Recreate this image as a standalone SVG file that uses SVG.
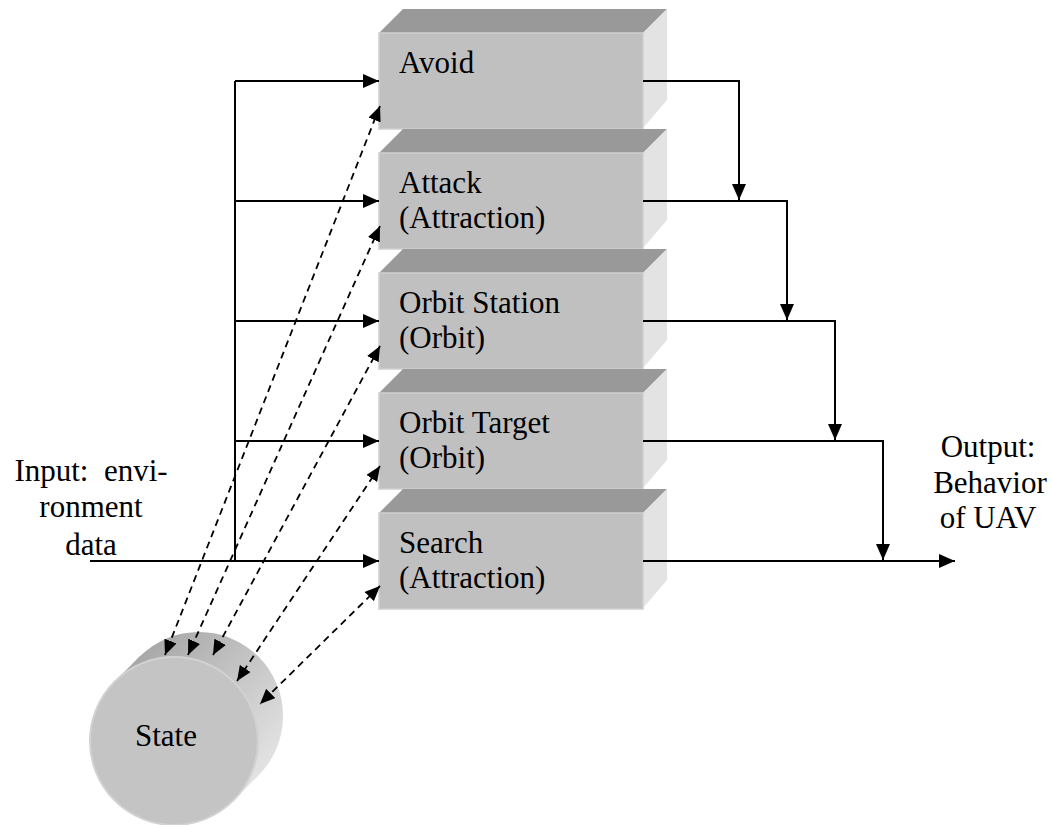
<svg xmlns="http://www.w3.org/2000/svg" width="1054" height="825" viewBox="0 0 1054 825">
<style>
.t{font-family:"Liberation Serif","Times New Roman",serif;font-size:31px;fill:#000}
.front{fill:#c0c0c0;stroke:#cfcfcf;stroke-width:1.5}
.top{fill:#999999}
.side{fill:#e3e3e3}
.ln{fill:none;stroke:#000;stroke-width:2}
.ds{fill:none;stroke:#000;stroke-width:1.8;stroke-dasharray:7 5}
</style>
<defs>
<marker id="ah" viewBox="0 0 16 14" refX="16" refY="7" markerWidth="16" markerHeight="14" markerUnits="userSpaceOnUse" orient="auto-start-reverse">
<path d="M0,0 L16,7 L0,14 z" fill="#000"/>
</marker>
<marker id="dh" viewBox="0 0 15 13" refX="15" refY="6.5" markerWidth="15" markerHeight="13" markerUnits="userSpaceOnUse" orient="auto-start-reverse">
<path d="M0,0 L15,6.5 L0,13 z" fill="#000"/>
</marker>
<linearGradient id="cyl" gradientUnits="userSpaceOnUse" x1="140" y1="630" x2="285" y2="770">
<stop offset="0" stop-color="#a2a2a2"/>
<stop offset="1" stop-color="#e8e8e8"/>
</linearGradient>
</defs>

<g id="avoid">
<polygon class="top" points="379,33 643,33 667,9 403,9"/>
<polygon class="side" points="643,33 667,9 667,100 643,128"/>
<rect class="front" x="379" y="33" width="264" height="96"/>
<text class="t" x="399" y="73">Avoid</text>
</g>
<g id="attack">
<polygon class="top" points="379,153 643,153 667,129 403,129"/>
<polygon class="side" points="643,153 667,129 667,220 643,248"/>
<rect class="front" x="379" y="153" width="264" height="96"/>
<text class="t" x="399" y="193">Attack</text>
<text class="t" x="399" y="228">(Attraction)</text>
</g>
<g id="orbit-station">
<polygon class="top" points="379,273 643,273 667,249 403,249"/>
<polygon class="side" points="643,273 667,249 667,340 643,368"/>
<rect class="front" x="379" y="273" width="264" height="96"/>
<text class="t" x="399" y="313">Orbit Station</text>
<text class="t" x="399" y="348">(Orbit)</text>
</g>
<g id="orbit-target">
<polygon class="top" points="379,393 643,393 667,369 403,369"/>
<polygon class="side" points="643,393 667,369 667,460 643,488"/>
<rect class="front" x="379" y="393" width="264" height="96"/>
<text class="t" x="399" y="433">Orbit Target</text>
<text class="t" x="399" y="468">(Orbit)</text>
</g>
<g id="search">
<polygon class="top" points="379,513 643,513 667,489 403,489"/>
<polygon class="side" points="643,513 667,489 667,580 643,608"/>
<rect class="front" x="379" y="513" width="264" height="96"/>
<text class="t" x="399" y="553">Search</text>
<text class="t" x="399" y="588">(Attraction)</text>
</g>

<g id="state">
<circle cx="199" cy="716" r="84" fill="url(#cyl)"/>
<polygon points="114.6,681.6 139.6,656.6 258.4,775.4 233.4,800.4" fill="url(#cyl)"/>
<circle cx="174" cy="741" r="84" fill="#c4c4c4" stroke="#d2d2d2" stroke-width="2"/>
<text class="t" x="166" y="746" text-anchor="middle">State</text>
</g>

<g id="input-label">
<text class="t" x="91" y="481" text-anchor="middle" xml:space="preserve">Input:  envi-</text>
<text class="t" x="91" y="517" text-anchor="middle">ronment</text>
<text class="t" x="91" y="555" text-anchor="middle">data</text>
</g>
<g id="output-label">
<text class="t" x="988" y="457" text-anchor="middle">Output:</text>
<text class="t" x="990" y="493" text-anchor="middle">Behavior</text>
<text class="t" x="988" y="528" text-anchor="middle">of UAV</text>
</g>

<g id="connectors">
<path class="ln" d="M235,81 V561"/>
<path class="ln" d="M235,81 H379" marker-end="url(#ah)"/>
<path class="ln" d="M235,201 H379" marker-end="url(#ah)"/>
<path class="ln" d="M235,321 H379" marker-end="url(#ah)"/>
<path class="ln" d="M235,441 H379" marker-end="url(#ah)"/>
<path class="ln" d="M90,561 H379" marker-end="url(#ah)"/>
<path class="ln" d="M643,81 H739 V200" marker-end="url(#ah)"/>
<path class="ln" d="M643,201 H787 V320" marker-end="url(#ah)"/>
<path class="ln" d="M643,321 H835 V440" marker-end="url(#ah)"/>
<path class="ln" d="M643,441 H883 V560" marker-end="url(#ah)"/>
<path class="ln" d="M643,561 H955" marker-end="url(#ah)"/>
<path class="ds" d="M380,106 L165,655" marker-start="url(#dh)" marker-end="url(#dh)"/>
<path class="ds" d="M380,226 L188,655" marker-start="url(#dh)" marker-end="url(#dh)"/>
<path class="ds" d="M380,346 L213,655" marker-start="url(#dh)" marker-end="url(#dh)"/>
<path class="ds" d="M380,466 L237,681" marker-start="url(#dh)" marker-end="url(#dh)"/>
<path class="ds" d="M380,586 L260,704" marker-start="url(#dh)" marker-end="url(#dh)"/>
</g>
</svg>
